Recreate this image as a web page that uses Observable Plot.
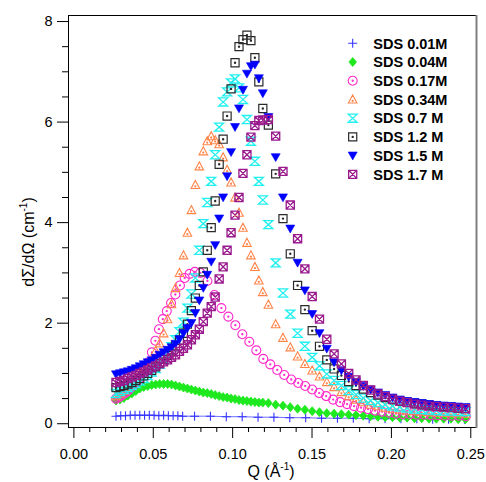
<!DOCTYPE html>
<html><head><meta charset="utf-8">
<script src="https://cdn.jsdelivr.net/npm/d3@7"></script>
<script src="https://cdn.jsdelivr.net/npm/@observablehq/plot@0.6"></script>
<style>
body{margin:0;background:#fff;font-family:"Liberation Sans",Arial,sans-serif}
#chart{position:relative;width:486px;height:482px;overflow:hidden}
</style></head><body><div id="chart"></div><script>
// ---- data ----
const q = [0.0265,0.0290,0.0315,0.0340,0.0365,0.0390,0.0415,0.0440,0.0465,0.0490,
 0.0515,0.0540,0.0565,0.0590,0.0615,0.0640,0.0665,0.0690,0.0715,0.0740,
 0.0765,0.0790,0.0815,0.0840,0.0865,0.0890,0.0915,0.0940,0.0965,0.0990,
 0.1015,0.1040,0.1065,0.1090,0.1115,0.1140,0.1165,0.1190,
 0.1225,0.1271,0.1317,0.1363,0.1409,0.1455,0.1501,0.1547,0.1593,0.1639,
 0.1685,0.1731,0.1777,0.1823,0.1869,0.1915,0.1961,0.2007,0.2053,0.2099,
 0.2145,0.2191,0.2237,0.2283,0.2329,0.2375,0.2421,0.2467];
const qPlus = [0.0265,0.0295,0.0325,0.0355,0.0385,0.0415,0.0445,0.0475,0.0505,0.0535,
 0.0565,0.0595,0.0625,0.0655,0.0685,0.076,0.086,0.096,0.106,0.116,0.126,0.136,0.146,
 0.156,0.166,0.176,0.186,0.196,0.206,0.216,0.226,0.236,0.246];
const qPink = [0.0265,0.0277,0.0289,0.0302,0.0316,0.0330,0.0345,0.0361,0.0377,0.0394,
 0.0411,0.0430,0.0449,0.0470,0.0491,0.0513,0.0536,0.0560,0.0585,0.0612,
 0.0639,0.0668,0.0698,0.0729,0.0762,0.0797,
 0.0841,0.0885,0.0929,0.0973,0.1017,0.1061,0.1105,0.1149,0.1193,0.1237,
 0.1281,0.1325,0.1369,0.1413,0.1457,0.1501,0.1545,0.1589,0.1633,0.1677,
 0.1721,0.1765,0.1809,0.1853,0.1897,0.1941,0.1985,0.2029,0.2073,0.2117,
 0.2161,0.2205,0.2249,0.2293,0.2337,0.2381,0.2425,0.2469];
const sds001 = [0.15,0.16,0.16,0.17,0.17,0.17,0.17,0.17,0.17,0.16,0.17,0.16,0.16,0.16,0.15,
 0.15,0.15,0.14,0.14,0.13,0.13,0.12,0.12,0.11,0.11,0.11,0.10,0.10,0.10,0.10,0.09,0.09,0.09];
const sds004 = [0.46,0.48,0.51,0.56,0.60,0.65,0.70,0.73,0.75,0.77,
 0.78,0.79,0.79,0.79,0.78,0.76,0.74,0.72,0.70,0.68,
 0.66,0.64,0.62,0.61,0.59,0.57,0.55,0.53,0.52,0.50,
 0.49,0.47,0.46,0.45,0.44,0.43,0.42,0.42,
 0.41,0.38,0.36,0.33,0.30,0.28,0.25,0.23,0.21,0.20,
 0.19,0.18,0.17,0.16,0.15,0.14,0.13,0.13,0.12,0.12,
 0.11,0.11,0.10,0.10,0.10,0.10,0.09,0.09];
const sds017 = [0.50,0.52,0.54,0.57,0.60,0.63,0.67,0.72,0.77,0.83,
 0.90,0.98,1.08,1.22,1.42,1.65,1.88,2.08,2.24,2.40,
 2.57,2.75,2.90,2.98,3.02,3.00,
 2.84,2.56,2.30,2.13,1.96,1.78,1.63,1.46,1.29,1.18,
 1.07,0.97,0.88,0.81,0.75,0.68,0.61,0.55,0.48,0.43,
 0.39,0.35,0.32,0.29,0.26,0.24,0.22,0.20,0.19,0.19,
 0.18,0.18,0.17,0.17,0.16,0.16,0.16,0.15];
const sds034 = [0.55,0.60,0.66,0.73,0.81,0.90,1.00,1.10,1.20,1.30,
 1.45,1.60,1.80,2.08,2.38,2.70,3.00,3.35,3.80,4.25,
 4.75,5.12,5.42,5.62,5.72,5.64,5.56,5.30,5.05,4.80,
 4.50,4.20,3.90,3.60,3.35,3.12,2.85,2.62,
 2.37,1.98,1.71,1.52,1.34,1.19,1.06,0.94,0.83,0.73,
 0.63,0.55,0.48,0.43,0.38,0.35,0.32,0.30,0.28,0.26,
 0.25,0.24,0.23,0.22,0.22,0.21,0.21,0.20];
const sds07 = [0.60,0.64,0.68,0.72,0.76,0.80,0.85,0.90,0.96,1.03,
 1.10,1.18,1.28,1.40,1.53,1.67,1.83,2.02,2.30,2.58,
 2.90,3.45,3.98,4.40,4.82,5.35,5.90,6.40,6.60,6.78,
 6.86,6.68,6.45,6.05,5.62,5.22,4.82,4.45,
 3.96,3.20,2.60,2.18,1.80,1.54,1.32,1.15,0.99,0.86,
 0.76,0.66,0.58,0.51,0.46,0.42,0.38,0.35,0.33,0.31,
 0.29,0.28,0.27,0.26,0.25,0.25,0.24,0.24];
const sds12 = [0.72,0.74,0.76,0.79,0.82,0.86,0.90,0.95,1.00,1.06,
 1.13,1.20,1.28,1.36,1.45,1.55,1.66,1.80,1.98,2.25,
 2.50,2.75,3.02,3.45,3.90,4.43,5.16,5.66,6.12,6.66,
 7.18,7.50,7.64,7.73,7.62,7.28,6.80,6.27,
 5.94,4.97,4.08,3.38,2.75,2.27,1.85,1.54,1.27,1.09,
 0.96,0.84,0.76,0.69,0.62,0.57,0.52,0.48,0.45,0.43,
 0.41,0.39,0.37,0.35,0.34,0.33,0.31,0.30];
const sds15 = [0.98,1.00,1.02,1.04,1.07,1.10,1.14,1.18,1.22,1.26,
 1.31,1.37,1.42,1.47,1.52,1.59,1.68,1.80,1.90,2.00,
 2.20,2.45,2.70,2.96,3.22,3.55,4.08,4.50,4.92,5.40,
 5.90,6.27,6.64,6.96,7.11,7.14,6.87,6.57,
 6.10,5.30,4.50,3.88,3.20,2.65,2.18,1.80,1.49,1.22,
 1.06,0.93,0.83,0.75,0.68,0.62,0.57,0.52,0.48,0.45,
 0.43,0.41,0.39,0.37,0.36,0.35,0.34,0.33];
const sds17 = [0.82,0.84,0.86,0.90,0.93,0.96,1.00,1.03,1.07,1.11,
 1.15,1.19,1.23,1.27,1.32,1.37,1.44,1.50,1.57,1.67,
 1.77,1.88,2.03,2.20,2.33,2.52,2.88,3.12,3.45,3.80,
 4.15,4.50,4.98,5.35,5.70,5.93,6.03,6.04,
 6.05,5.72,5.02,4.35,3.68,3.08,2.53,2.08,1.68,1.39,
 1.19,1.00,0.87,0.76,0.67,0.59,0.54,0.49,0.45,0.42,
 0.39,0.37,0.35,0.34,0.33,0.32,0.31,0.30];
const seriesNames = ["SDS 0.01M","SDS 0.04M","SDS 0.17M","SDS 0.34M","SDS 0.7 M","SDS 1.2 M","SDS 1.5 M","SDS 1.7 M"];
const xTicks = [0, 0.05, 0.10, 0.15, 0.20, 0.25];
const xMinor = [0.01,0.02,0.03,0.04,0.06,0.07,0.08,0.09,0.11,0.12,0.13,0.14,0.16,0.17,0.18,0.19,0.21,0.22,0.23,0.24];
const yTicks = [0, 2, 4, 6, 8];
const yMinor = [0.5,1,1.5,2.5,3,3.5,4.5,5,5.5,6.5,7,7.5];

// ---- symbols ----
const sym = f => ({draw(c, size){ f(c, Math.sqrt(size/Math.PI)); }});
const dot = (c, x, y) => { c.moveTo(x+0.6, y); c.arc(x, y, 0.6, 0, 2*Math.PI); };
const symPlus = sym((c,r)=>{c.moveTo(-r,0);c.lineTo(r,0);c.moveTo(0,-r);c.lineTo(0,r);});
const symDiamond = sym((c,r)=>{c.moveTo(0,-r);c.lineTo(r*0.85,0);c.lineTo(0,r);c.lineTo(-r*0.85,0);c.closePath();});
const symCircleDot = sym((c,r)=>{c.moveTo(r,0);c.arc(0,0,r,0,2*Math.PI);dot(c,0,0);});
const symTriDot = sym((c,r)=>{c.moveTo(0,-r);c.lineTo(r*0.95,r*0.8);c.lineTo(-r*0.95,r*0.8);c.closePath();dot(c,0,r*0.3);});
const symHourglass = sym((c,r)=>{c.moveTo(-r,-r*0.9);c.lineTo(r,-r*0.9);c.lineTo(-r,r*0.9);c.lineTo(r,r*0.9);c.closePath();});
const symSquareDot = sym((c,r)=>{const s=r*0.9;c.moveTo(-s,-s);c.lineTo(s,-s);c.lineTo(s,s);c.lineTo(-s,s);c.closePath();dot(c,0,0);});
const symTriDown = sym((c,r)=>{c.moveTo(-r,-r*0.8);c.lineTo(r,-r*0.8);c.lineTo(0,r*0.95);c.closePath();});
const symSquareX = sym((c,r)=>{const s=r*0.9;c.moveTo(-s,-s);c.lineTo(s,-s);c.lineTo(s,s);c.lineTo(-s,s);c.closePath();c.moveTo(-s,-s);c.lineTo(s,s);c.moveTo(s,-s);c.lineTo(-s,s);});

const series = [
  {q:qPlus, v:sds001, symbol:symPlus, stroke:"#3535ff", fill:"none", sw:1.1},
  {q:q, v:sds004, symbol:symDiamond, stroke:"#1ee81e", fill:"#1ee81e", sw:0.8},
  {q:qPink, v:sds017, symbol:symCircleDot, stroke:"#ff2acb", fill:"none", sw:1.1},
  {q:q, v:sds034, symbol:symTriDot, stroke:"#ff8448", fill:"none", sw:1.1},
  {q:q, v:sds07, symbol:symHourglass, stroke:"#22f0f0", fill:"none", sw:1.3},
  {q:q, v:sds12, symbol:symSquareDot, stroke:"#2a2a2a", fill:"none", sw:1.2},
  {q:q, v:sds15, symbol:symTriDown, stroke:"#0000ff", fill:"#0000ff", sw:0.6},
  {q:q, v:sds17, symbol:symSquareX, stroke:"#9a1a8e", fill:"none", sw:1.3}
];
series.forEach((s,i)=>{ s.name = seriesNames[i]; s.data = s.q.map((x,j)=>({q:x, v:s.v[j]})); });

const W = 486, H = 482, ML = 68, MR = 10, MT = 15, MB = 55;
const FS = "14.5px";

const plot = Plot.plot({
  width: W, height: H,
  marginLeft: ML, marginRight: MR, marginTop: MT, marginBottom: MB,
  style: {fontFamily: '"Liberation Sans", Arial, sans-serif', fontSize: FS, color: "#000", background: "#fff", overflow: "visible"},
  x: {domain: [-0.0034, 0.2536], axis: null},
  y: {domain: [-0.075, 8.12], axis: null},
  marks: [
    Plot.line(series[0].data, {x:"q", y:"v", stroke:"#3535ff", strokeWidth:0.9, strokeOpacity:0.8}),
    ...series.map(s => Plot.dot(s.data, {x:"q", y:"v", symbol:s.symbol, r:4.5, stroke:s.stroke, fill:s.fill, strokeWidth:s.sw})),
    Plot.frame({stroke:"#000", strokeWidth:1}),
    Plot.axisX({ticks: xMinor, tickSize: 5, tickFormat: () => "", anchor:"bottom", label: null}),
    Plot.axisX({ticks: xTicks, tickSize: 11, tickPadding: 10, tickFormat: d3.format(".2f"), anchor:"bottom", fontSize: FS, label: null}),
    Plot.axisY({ticks: yMinor, tickSize: 6, tickFormat: () => "", anchor:"left", label: null}),
    Plot.axisY({ticks: yTicks, tickSize: 11, tickPadding: 5, tickFormat: d3.format("d"), anchor:"left", fontSize: FS, label: null})
  ]
});
document.getElementById("chart").appendChild(plot);

const svg = d3.select(plot);
// right frame edge (gray, thicker)
svg.append("line").attr("x1", W-MR+0.5).attr("x2", W-MR+0.5).attr("y1", MT).attr("y2", H-MB+1)
  .attr("stroke", "#808080").attr("stroke-width", 2);

// axis titles
const xl = svg.append("text").attr("x", (ML + W - MR)/2 - 1).attr("y", 477).attr("text-anchor","middle")
  .style("font-size","16px").attr("fill","#000");
xl.append("tspan").text("Q (Å");
xl.append("tspan").text("-1").style("font-size","10px").attr("dy","-7");
xl.append("tspan").text(")").attr("dy","7");

const yl = svg.append("text").attr("transform", "translate(34,242) rotate(-90)").attr("text-anchor","middle")
  .style("font-size","16px").attr("fill","#000");
yl.append("tspan").text("dΣ/dΩ (cm");
yl.append("tspan").text("-1").style("font-size","10px").attr("dy","-7");
yl.append("tspan").text(")").attr("dy","7");

// legend
const lg = svg.append("g").attr("text-anchor","start");
series.forEach((s,i)=>{
  const y = 43.3 + i*18.72;
  const p = d3.path(); s.symbol.draw(p, 4.5*4.5*Math.PI);
  lg.append("path").attr("d", p.toString()).attr("transform", `translate(352.7,${y})`)
    .attr("stroke", s.stroke).attr("fill", s.fill).attr("stroke-width", s.sw);
  lg.append("text").attr("x", 373.3).attr("y", y).attr("dy","0.36em").attr("text-anchor","start")
    .style("font-size","14.5px").style("font-weight","bold").attr("fill","#000").text(s.name);
});
</script></body></html>
